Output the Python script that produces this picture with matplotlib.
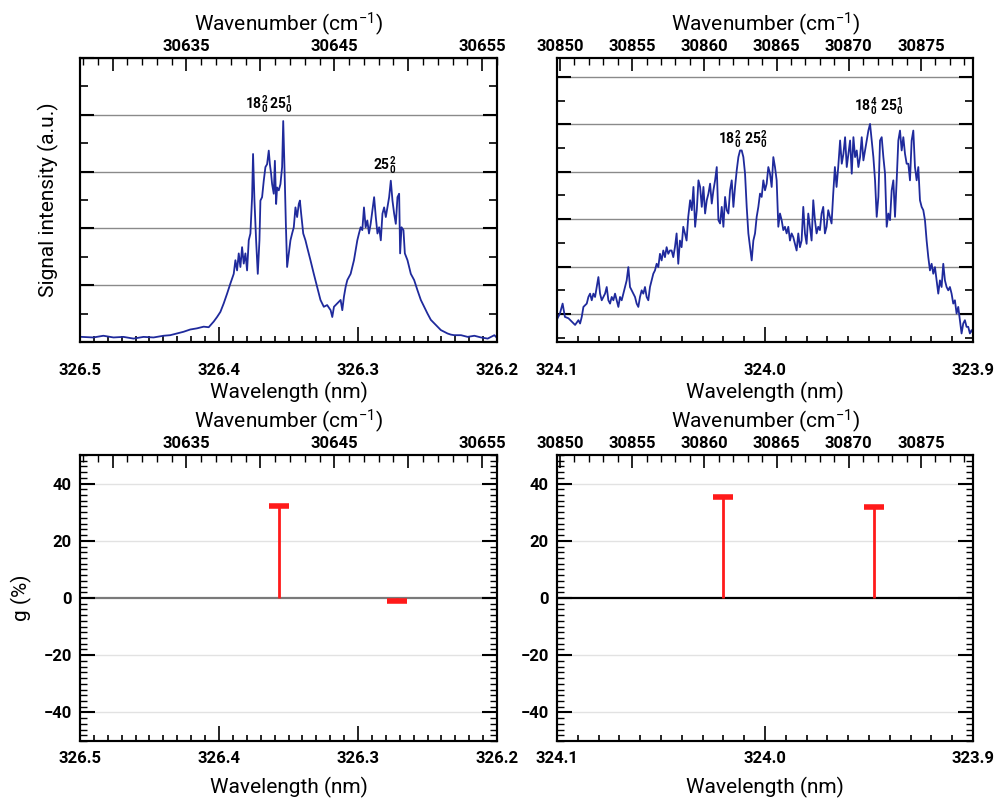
import numpy as np
import matplotlib
matplotlib.use("Agg")
import matplotlib.pyplot as plt
from matplotlib.ticker import MultipleLocator, FuncFormatter

plt.rcParams['font.family'] = ['Roboto', 'DejaVu Sans']
plt.rcParams['font.weight'] = 'bold'
plt.rcParams['mathtext.fontset'] = 'custom'
plt.rcParams['mathtext.rm'] = 'Roboto:bold'
plt.rcParams['mathtext.default'] = 'regular'

# spectrum, band A (326.5 - 326.2 nm)
wl_a = [326.4988, 326.4904, 326.4832, 326.4759, 326.4687, 326.4615, 326.4543, 326.4471,
        326.4399, 326.4351, 326.4303, 326.4255, 326.4207, 326.4159, 326.4110, 326.4074,
        326.4038, 326.4014, 326.3990, 326.3966, 326.3942, 326.3918, 326.3894, 326.3882,
        326.3870, 326.3858, 326.3846, 326.3834, 326.3822, 326.3810, 326.3798, 326.3786,
        326.3774, 326.3762, 326.3755, 326.3745, 326.3733, 326.3721, 326.3709, 326.3702,
        326.3690, 326.3678, 326.3666, 326.3654, 326.3642, 326.3634, 326.3625, 326.3618,
        326.3606, 326.3598, 326.3589, 326.3582, 326.3570, 326.3558, 326.3546, 326.3538,
        326.3529, 326.3519, 326.3510, 326.3498, 326.3486, 326.3474, 326.3462, 326.3450,
        326.3438, 326.3426, 326.3418, 326.3409, 326.3394, 326.3378, 326.3366, 326.3342,
        326.3318, 326.3294, 326.3270, 326.3246, 326.3222, 326.3197, 326.3185, 326.3173,
        326.3149, 326.3125, 326.3113, 326.3101, 326.3089, 326.3077, 326.3053, 326.3029,
        326.3005, 326.2993, 326.2981, 326.2969, 326.2957, 326.2945, 326.2933, 326.2921,
        326.2909, 326.2896, 326.2884, 326.2872, 326.2860, 326.2848, 326.2836, 326.2824,
        326.2812, 326.2800, 326.2788, 326.2776, 326.2764, 326.2752, 326.2740, 326.2728,
        326.2716, 326.2704, 326.2697, 326.2687, 326.2673, 326.2663, 326.2644, 326.2620,
        326.2596, 326.2572, 326.2548, 326.2524, 326.2500, 326.2476, 326.2452, 326.2428,
        326.2404, 326.2380, 326.2356, 326.2332, 326.2308, 326.2259, 326.2211, 326.2163,
        326.2115, 326.2067, 326.2019, 326.1995]
sig_a = [0.09, 0.08, 0.11, 0.08, 0.09, 0.06, 0.09, 0.08,
         0.11, 0.12, 0.15, 0.18, 0.22, 0.24, 0.27, 0.26,
         0.36, 0.44, 0.53, 0.68, 0.85, 1.03, 1.20, 1.44,
         1.26, 1.56, 1.32, 1.67, 1.38, 1.56, 1.26, 1.79,
         1.91, 2.55, 3.31, 2.49, 1.79, 1.20, 1.79, 2.49,
         2.55, 2.84, 3.08, 3.13, 3.37, 3.13, 2.96, 2.78,
         2.61, 3.19, 2.43, 2.72, 2.67, 2.78, 3.08, 3.89,
         3.08, 2.08, 1.32, 1.56, 1.79, 1.91, 2.02, 2.37,
         2.20, 2.43, 2.49, 2.26, 1.91, 1.79, 1.67, 1.44,
         1.20, 0.97, 0.74, 0.62, 0.65, 0.56, 0.44, 0.62,
         0.68, 0.74, 0.56, 0.80, 0.97, 1.09, 1.20, 1.44,
         1.79, 1.91, 2.02, 1.97, 2.37, 2.02, 2.14, 1.91,
         2.08, 2.32, 2.55, 2.20, 1.91, 2.02, 1.79, 2.26,
         2.37, 2.20, 2.37, 2.55, 2.84, 2.49, 2.26, 2.08,
         2.55, 2.61, 1.56, 2.02, 1.97, 1.56, 1.44, 1.20,
         1.09, 0.91, 0.74, 0.62, 0.50, 0.39, 0.33, 0.27,
         0.21, 0.18, 0.15, 0.13, 0.12, 0.12, 0.09, 0.11,
         0.08, 0.06, 0.12, 0.06]

# spectrum, band B (324.1 - 323.9 nm)
wl_b = [324.1002, 324.0986, 324.0973, 324.0962, 324.0945, 324.0929, 324.0913, 324.0897,
        324.0889, 324.0881, 324.0873, 324.0857, 324.0849,
        324.0841, 324.0833, 324.0825, 324.0817, 324.0809, 324.0801, 324.0793, 324.0785,
        324.0777, 324.0769, 324.0761, 324.0753, 324.0745, 324.0737, 324.0729, 324.0721,
        324.0713, 324.0705, 324.0697, 324.0689, 324.0681, 324.0673, 324.0665, 324.0657,
        324.0649, 324.0641, 324.0633, 324.0625, 324.0617, 324.0609, 324.0601, 324.0593,
        324.0585, 324.0577, 324.0569, 324.0561, 324.0553, 324.0545, 324.0537, 324.0529,
        324.0521, 324.0513, 324.0505, 324.0497, 324.0489, 324.0481, 324.0473, 324.0465,
        324.0457, 324.0449, 324.0441, 324.0433, 324.0425, 324.0417, 324.0409, 324.0401,
        324.0393, 324.0385, 324.0377, 324.0369, 324.0360, 324.0352, 324.0344, 324.0336,
        324.0328, 324.0320, 324.0312, 324.0304, 324.0296, 324.0288, 324.0280, 324.0272,
        324.0264, 324.0256, 324.0248, 324.0240, 324.0232, 324.0224, 324.0216, 324.0208,
        324.0200, 324.0192, 324.0184, 324.0176, 324.0168, 324.0160, 324.0152, 324.0144,
        324.0136, 324.0128, 324.0120, 324.0112, 324.0104, 324.0096, 324.0088, 324.0080,
        324.0072, 324.0064, 324.0056, 324.0048, 324.0040, 324.0032, 324.0024, 324.0016,
        324.0008, 324.0000, 323.9992, 323.9984, 323.9976, 323.9968, 323.9960, 323.9952,
        323.9944, 323.9936, 323.9928, 323.9920, 323.9912, 323.9904, 323.9896, 323.9888,
        323.9880, 323.9872, 323.9864, 323.9856, 323.9848, 323.9840, 323.9832, 323.9824,
        323.9816, 323.9808, 323.9800, 323.9792, 323.9784, 323.9776, 323.9768, 323.9760,
        323.9752, 323.9744, 323.9736, 323.9728, 323.9720, 323.9712, 323.9704, 323.9696,
        323.9688, 323.9680, 323.9672, 323.9664, 323.9656, 323.9648, 323.9639, 323.9631,
        323.9623, 323.9615, 323.9607, 323.9599, 323.9591, 323.9583, 323.9575, 323.9567,
        323.9559, 323.9551, 323.9543, 323.9535, 323.9527, 323.9519, 323.9511, 323.9503,
        323.9495, 323.9487, 323.9479, 323.9471, 323.9463, 323.9455, 323.9447, 323.9439,
        323.9431, 323.9423, 323.9415, 323.9407, 323.9399, 323.9391, 323.9383, 323.9375,
        323.9367, 323.9359, 323.9351, 323.9343, 323.9335, 323.9327, 323.9319, 323.9311,
        323.9303, 323.9295, 323.9287, 323.9279, 323.9271, 323.9263, 323.9255, 323.9247,
        323.9239, 323.9231, 323.9223, 323.9215, 323.9207, 323.9199, 323.9191, 323.9183,
        323.9175, 323.9167, 323.9159, 323.9151, 323.9143, 323.9135, 323.9127, 323.9119,
        323.9111, 323.9103, 323.9095, 323.9087, 323.9079, 323.9071, 323.9063, 323.9055,
        323.9047, 323.9039, 323.9031, 323.9023, 323.9015, 323.9007, 323.8999]
sig_b = [0.87, 1.01, 1.22, 0.94, 0.91, 0.84, 0.77, 0.87,
         0.80, 0.94, 1.15, 1.22, 1.36,
         1.43, 1.29, 1.43, 1.36, 1.57, 1.78, 1.43, 1.29,
         1.36, 1.43, 1.57, 1.29, 1.22, 1.36, 1.29, 1.43,
         1.29, 1.15, 1.36, 1.29, 1.43, 1.57, 1.71, 1.99,
         1.57, 1.50, 1.43, 1.36, 1.22, 1.15, 1.36, 1.50,
         1.43, 1.57, 1.36, 1.29, 1.57, 1.71, 1.85, 1.92,
         2.06, 1.99, 2.27, 2.13, 2.34, 2.20, 2.41, 2.27,
         2.34, 2.34, 2.20, 2.41, 2.70, 2.06, 2.55, 2.41,
         2.84, 2.70, 2.55, 3.05, 3.40, 3.19, 3.68, 2.84,
         3.19, 3.82, 3.68, 3.26, 3.68, 3.12, 3.40, 3.54,
         3.75, 3.33, 3.61, 3.82, 4.10, 2.98, 2.91, 3.26,
         2.84, 3.47, 3.19, 3.12, 3.61, 3.82, 3.26, 3.68,
         4.03, 4.31, 4.45, 4.45, 4.31, 3.96, 3.26, 2.70,
         2.41, 2.13, 2.55, 2.70, 3.05, 3.26, 3.54, 3.47,
         3.82, 3.61, 3.75, 4.10, 3.96, 3.68, 4.31, 4.10,
         3.82, 2.84, 3.12, 2.98, 2.77, 2.84, 2.70, 2.84,
         2.55, 2.70, 2.62, 2.48, 2.34, 2.70, 2.41, 2.55,
         3.26, 2.70, 2.48, 3.12, 2.84, 2.55, 3.40, 2.98,
         2.70, 2.84, 2.77, 3.12, 3.26, 2.70, 2.84, 3.19,
         3.05, 2.91, 3.54, 4.10, 3.68, 4.10, 4.66, 4.17,
         4.38, 4.73, 4.10, 4.38, 4.66, 3.96, 4.73, 4.31,
         4.45, 4.10, 4.31, 4.73, 4.24, 4.45, 4.66, 4.87,
         5.01, 4.66, 4.31, 3.82, 3.05, 3.47, 4.66, 4.73,
         4.31, 3.96, 2.84, 3.12, 2.98, 3.61, 3.82, 3.05,
         3.82, 4.66, 4.87, 4.45, 4.73, 4.38, 4.17, 4.17,
         3.82, 4.66, 4.87, 4.10, 3.82, 4.10, 3.40, 3.26,
         3.19, 2.98, 2.55, 2.20, 1.92, 2.06, 1.85, 1.99,
         1.71, 1.43, 1.71, 1.57, 2.06, 1.71, 1.57, 1.50,
         1.57, 1.43, 1.22, 1.29, 1.01, 1.15, 0.87, 0.59,
         0.80, 0.87, 0.73, 0.73, 0.59, 0.66, 0.59]

# dissymmetry factor g (%)
g_wl_a = [326.3565, 326.2720]
g_val_a = [32.2, -1.0]
g_wl_b = [324.0202, 323.9476]
g_val_b = [35.3, 31.8]

band_labels_a = [r'$18^2_0\,25^1_0$', r'$25^2_0$']
band_pos_a = [(326.3644, 4.19), (326.2808, 3.12)]
band_labels_b = [r'$18^2_0\;25^2_0$', r'$18^4_0\;25^1_0$']
band_pos_b = [(324.0106, 4.70), (323.9456, 5.39)]

blue = '#1f2a9c'
red = '#ff1a1a'

fig = plt.figure(figsize=(9.95, 8), dpi=100)
ax_tl = fig.add_axes([0.0804, 0.5725, 0.4191, 0.355])
ax_tr = fig.add_axes([0.5598, 0.5725, 0.4181, 0.355])
ax_bl = fig.add_axes([0.0804, 0.07375, 0.4191, 0.3575])
ax_br = fig.add_axes([0.5598, 0.07375, 0.4181, 0.3575])


def style_bottom(ax, lo, hi, pad, labelpad):
    ax.set_xlim(lo, hi)
    ax.xaxis.set_major_locator(MultipleLocator(0.1))
    ax.xaxis.set_minor_locator(MultipleLocator(0.01))
    ax.xaxis.set_major_formatter(FuncFormatter(lambda v, p: '%.1f' % v))
    ax.tick_params(axis='x', which='major', direction='in', length=11, width=1.2,
                   labelsize=12, pad=pad)
    ax.tick_params(axis='x', which='minor', direction='in', length=4, width=1.2)
    ax.set_xlabel('Wavelength (nm)', fontsize=15, labelpad=labelpad)
    for s in ax.spines.values():
        s.set_linewidth(1.5)


def add_top(ax, lo, hi, skip_odd):
    top = ax.twiny()
    top.set_xlim(lo, hi)
    top.xaxis.set_major_locator(MultipleLocator(5))
    top.xaxis.set_minor_locator(MultipleLocator(1))
    if skip_odd:
        top.xaxis.set_major_formatter(
            FuncFormatter(lambda v, p: '%d' % round(v) if round(v) % 10 == 5 else ''))
    else:
        top.xaxis.set_major_formatter(FuncFormatter(lambda v, p: '%d' % round(v)))
    top.tick_params(axis='x', which='major', direction='in', length=9, width=1.2,
                    labelsize=12, pad=3)
    top.tick_params(axis='x', which='minor', direction='in', length=5, width=1.0)
    top.set_xlabel('Wavenumber (cm$^{-1}$)', fontsize=15, labelpad=6)
    for s in top.spines.values():
        s.set_linewidth(1.5)
    return top


# top panels: spectra
for ax, wl, sig, lo, hi, ylo, yhi in [(ax_tl, wl_a, sig_a, 326.5, 326.2, 0, 5),
                                      (ax_tr, wl_b, sig_b, 324.1, 323.9, 0.41, 6.4)]:
    ax.plot(wl, sig, color=blue, lw=1.3)
    ax.set_ylim(ylo, yhi)
    ax.yaxis.set_major_locator(MultipleLocator(1))
    ax.yaxis.set_minor_locator(MultipleLocator(0.5))
    ax.yaxis.set_ticks_position('both')
    ax.tick_params(axis='y', which='major', direction='in', length=10, width=1.5,
                   labelleft=False)
    ax.tick_params(axis='y', which='minor', direction='in', length=6, width=1.2)
    ax.grid(axis='y', which='major', color='#8a8a8a', lw=1.0)
    style_bottom(ax, lo, hi, pad=15, labelpad=3)

for (txt, (x, y)) in zip(band_labels_a, band_pos_a):
    ax_tl.text(x, y, txt, fontsize=10, ha='center', va='center')
for (txt, (x, y)) in zip(band_labels_b, band_pos_b):
    ax_tr.text(x, y, txt, fontsize=10, ha='center', va='center')

ax_tl.set_ylabel('Signal intensity (a.u.)', fontsize=15, labelpad=12)

add_top(ax_tl, 30627.8, 30656.0, True)
add_top(ax_tr, 30849.8, 30878.6, False)

# bottom panels: g factor
for ax, gw, gv, lo, hi, zc in [(ax_bl, g_wl_a, g_val_a, 326.5, 326.2, '#7a7a7a'),
                               (ax_br, g_wl_b, g_val_b, 324.1, 323.9, 'black')]:
    ax.set_ylim(-50, 50)
    ax.yaxis.set_major_locator(MultipleLocator(20))
    ax.yaxis.set_minor_locator(MultipleLocator(2))
    ax.yaxis.set_ticks_position('both')
    ax.tick_params(axis='y', which='major', direction='in', length=11, width=1.5,
                   labelsize=12, pad=6)
    ax.tick_params(axis='y', which='minor', direction='in', length=5, width=1.0)
    for v in [-40, -20, 20, 40]:
        ax.axhline(v, color='#e2e2e2', lw=1.0, zorder=0)
    ax.axhline(0, color=zc, lw=1.6, zorder=1)
    ax.vlines(gw, 0, gv, color=red, lw=2, zorder=3)
    ax.plot(gw, gv, ls='none', marker='_', ms=14, mew=4, color=red, zorder=4)
    style_bottom(ax, lo, hi, pad=7, labelpad=8)

ax_bl.set_ylabel('g (%)', fontsize=15, labelpad=8)
add_top(ax_bl, 30627.8, 30656.0, True)
add_top(ax_br, 30849.8, 30878.6, False)

fig.savefig('out.png', dpi=100)
